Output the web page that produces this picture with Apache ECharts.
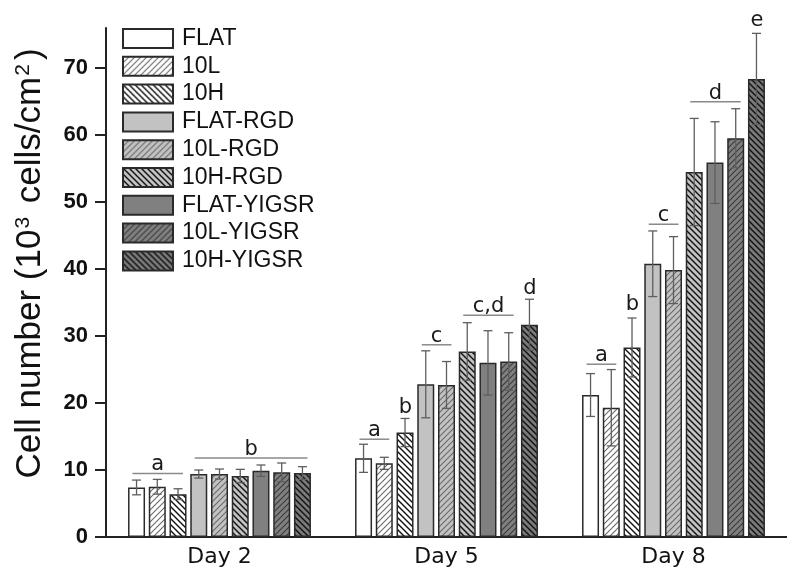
<!DOCTYPE html>
<html>
<head>
<meta charset="utf-8">
<script src="https://cdn.jsdelivr.net/npm/echarts@6/dist/echarts.min.js"></script>
<style>
html,body{margin:0;padding:0;background:#fff;}
#chart{width:787px;height:573px;}
</style>
</head>
<body>
<div id="chart"></div>
<script>
// ---- data ----
const categories = ['Day 2', 'Day 5', 'Day 8'];
const seriesNames = ['FLAT', '10L', '10H', 'FLAT-RGD', '10L-RGD', '10H-RGD', 'FLAT-YIGSR', '10L-YIGSR', '10H-YIGSR'];

const flat        = [7.4, 11.75, 21.2];
const l10         = [7.5, 11.0, 19.3];
const h10         = [6.4, 15.6, 28.3];
const flatRgd     = [9.4, 22.8, 40.8];
const l10Rgd      = [9.4, 22.7, 39.85];
const h10Rgd      = [9.1, 27.7, 54.5];
const flatYigsr   = [9.9, 26.0, 55.9];
const l10Yigsr    = [9.65, 26.2, 59.55];
const h10Yigsr    = [9.55, 31.7, 68.4];

const flatErr      = [1.1, 2.1, 3.2];
const l10Err       = [1.1, 0.9, 5.7];
const h10Err       = [0.8, 2.1, 4.4];
const flatRgdErr   = [0.6, 5.0, 4.9];
const l10RgdErr    = [0.75, 3.5, 5.0];
const h10RgdErr    = [1.0, 4.3, 8.0];
const flatYigsrErr = [0.85, 4.8, 6.1];
const l10YigsrErr  = [1.4, 4.3, 4.4];
const h10YigsrErr  = [0.95, 3.8, 6.8];

const yTicks = [0, 10, 20, 30, 40, 50, 60, 70];
const yMax = 76;

// significance groups
const sigLabels   = ['a', 'b', 'a', 'b', 'c', 'c,d', 'd', 'a', 'b', 'c', 'd', 'e'];
const sigCategory = [0, 0, 1, 1, 1, 1, 1, 2, 2, 2, 2, 2];
const sigFrom     = [0, 3, 0, 2, 3, 5, 8, 0, 2, 3, 5, 8];
const sigTo       = [2, 8, 1, 2, 4, 7, 8, 1, 2, 4, 7, 8];
const sigLevel    = [9.5, 11.8, 14.6, 18.05, 28.7, 33.1, 35.8, 25.8, 33.4, 46.7, 65.0, 75.9];
const sigHasLine  = [1, 1, 1, 0, 1, 1, 0, 1, 0, 1, 1, 0];

const values = [flat, l10, h10, flatRgd, l10Rgd, h10Rgd, flatYigsr, l10Yigsr, h10Yigsr];
const errors = [flatErr, l10Err, h10Err, flatRgdErr, l10RgdErr, h10RgdErr, flatYigsrErr, l10YigsrErr, h10YigsrErr];

// ---- styles ----
const BAR_W = 17;
const BAR_GAP = 0.22;
const PITCH = BAR_W * (1 + BAR_GAP);
const NS = seriesNames.length;

function hatch(bg, lineColor, dir, lw) {
  const s = 6;
  const c = document.createElement('canvas');
  c.width = s; c.height = s;
  const ctx = c.getContext('2d');
  ctx.fillStyle = bg; ctx.fillRect(0, 0, s, s);
  ctx.strokeStyle = lineColor; ctx.lineWidth = lw;
  ctx.beginPath();
  if (dir === '/') {
    ctx.moveTo(-1, s + 1); ctx.lineTo(s + 1, -1);
    ctx.moveTo(-1, 1); ctx.lineTo(1, -1);
    ctx.moveTo(s - 1, s + 1); ctx.lineTo(s + 1, s - 1);
  } else {
    ctx.moveTo(-1, -1); ctx.lineTo(s + 1, s + 1);
    ctx.moveTo(s - 1, -1); ctx.lineTo(s + 1, 1);
    ctx.moveTo(-1, s - 1); ctx.lineTo(1, s + 1);
  }
  ctx.stroke();
  return { image: c, repeat: 'repeat' };
}

const fills = [
  '#ffffff',
  hatch('#ffffff', '#6a6a6a', '/', 1.1),
  hatch('#ffffff', '#111111', '\\', 1.4),
  '#c2c2c2',
  hatch('#c2c2c2', '#6a6a6a', '/', 1.1),
  hatch('#c2c2c2', '#111111', '\\', 1.4),
  '#808080',
  hatch('#808080', '#3a3a3a', '/', 1.1),
  hatch('#7a7a7a', '#111111', '\\', 1.4)
];

const barSeries = seriesNames.map((name, i) => ({
  name: name,
  type: 'bar',
  data: values[i],
  barWidth: BAR_W,
  barGap: (BAR_GAP * 100) + '%',
  itemStyle: { color: fills[i], borderColor: '#2a2a2a', borderWidth: 1.5 },
  emphasis: { disabled: true },
  z: 2
}));

const errData = [];
for (let s = 0; s < NS; s++) {
  for (let c = 0; c < categories.length; c++) {
    errData.push([c, values[s][c], errors[s][c], s]);
  }
}

const errSeries = {
  type: 'custom',
  name: 'err',
  z: 5,
  silent: true,
  data: errData,
  encode: { x: 0, y: 1 },
  renderItem: function (params, api) {
    const cat = api.value(0), m = api.value(1), e = api.value(2), s = api.value(3);
    const x = api.coord([cat, 0])[0] + (s - (NS - 1) / 2) * PITCH;
    const yt = api.coord([cat, m + e])[1];
    const yb = api.coord([cat, m - e])[1];
    const st = { stroke: '#5e5e5e', lineWidth: 1.3 };
    const hw = 4.5;
    return {
      type: 'group',
      children: [
        { type: 'line', shape: { x1: x, y1: yt, x2: x, y2: yb }, style: st },
        { type: 'line', shape: { x1: x - hw, y1: yt, x2: x + hw, y2: yt }, style: st },
        { type: 'line', shape: { x1: x - hw, y1: yb, x2: x + hw, y2: yb }, style: st }
      ]
    };
  }
};

const sigData = sigLabels.map((t, i) => [sigCategory[i], sigLevel[i], sigFrom[i], sigTo[i], sigHasLine[i]]);
const sigSeries = {
  type: 'custom',
  name: 'sig',
  z: 6,
  silent: true,
  clip: false,
  data: sigData,
  encode: { x: 0, y: 1 },
  renderItem: function (params, api) {
    const cat = api.value(0), lv = api.value(1), f = api.value(2), t = api.value(3), hl = api.value(4);
    const cx = api.coord([cat, 0])[0];
    const x1 = cx + (f - (NS - 1) / 2) * PITCH - 4;
    const x2 = cx + (t - (NS - 1) / 2) * PITCH + 5;
    const y = api.coord([cat, lv])[1];
    const children = [];
    if (hl) {
      children.push({ type: 'line', shape: { x1: x1, y1: y, x2: x2, y2: y }, style: { stroke: '#8a8a8a', lineWidth: 1.5 } });
    }
    children.push({
      type: 'text',
      style: {
        text: sigLabels[params.dataIndex],
        x: (x1 + x2) / 2,
        y: y + 2,
        align: 'center',
        verticalAlign: 'bottom',
        fontFamily: 'DejaVu Sans',
        fontSize: 21,
        fill: '#1a1a1a'
      }
    });
    return { type: 'group', children: children };
  }
};

const chart = echarts.init(document.getElementById('chart'), null, { renderer: 'canvas' });
chart.setOption({
  backgroundColor: '#ffffff',
  animation: false,
  grid: { left: 106, top: 28, bottom: 36, right: -10.5, containLabel: false },
  legend: {
    data: seriesNames,
    orient: 'vertical',
    left: 122,
    top: 27,
    padding: 0,
    icon: 'rect',
    itemWidth: 50,
    itemHeight: 19,
    itemGap: 4.8,
    selectedMode: false,
    textStyle: { fontFamily: 'Liberation Sans', fontSize: 23, color: '#111', lineHeight: 23, padding: [0, 0, 0, 4] }
  },
  xAxis: {
    type: 'category',
    data: categories,
    axisLine: { show: true, lineStyle: { color: '#222', width: 2 } },
    axisTick: { show: false },
    axisLabel: { fontFamily: 'DejaVu Sans', fontSize: 22, color: '#111', margin: 9 },
    splitLine: { show: false }
  },
  yAxis: {
    type: 'value',
    min: yTicks[0],
    max: yMax,
    interval: yTicks[1] - yTicks[0],
    name: '{n|Cell number (10}{s|3}{n| cells/cm}{s|2}{n|)}',
    nameLocation: 'middle',
    nameGap: 58,
    nameTextStyle: {
      padding: [0, 0, 0, 38],
      rich: {
        n: { fontFamily: 'Liberation Sans', fontSize: 35, color: '#111' },
        s: { fontFamily: 'Liberation Sans', fontSize: 21, color: '#111', verticalAlign: 'top', padding: [0, 4, 0, 1] }
      }
    },
    axisLine: { show: true, lineStyle: { color: '#222', width: 2 } },
    axisTick: { show: true, inside: false, length: 11, customValues: yTicks, lineStyle: { color: '#222', width: 2 } },
    axisLabel: { customValues: yTicks, fontFamily: 'Liberation Sans', fontWeight: 'bold', fontSize: 22, color: '#111', margin: 18 },
    splitLine: { show: false }
  },
  series: barSeries.concat([errSeries, sigSeries])
});
</script>
</body>
</html>
